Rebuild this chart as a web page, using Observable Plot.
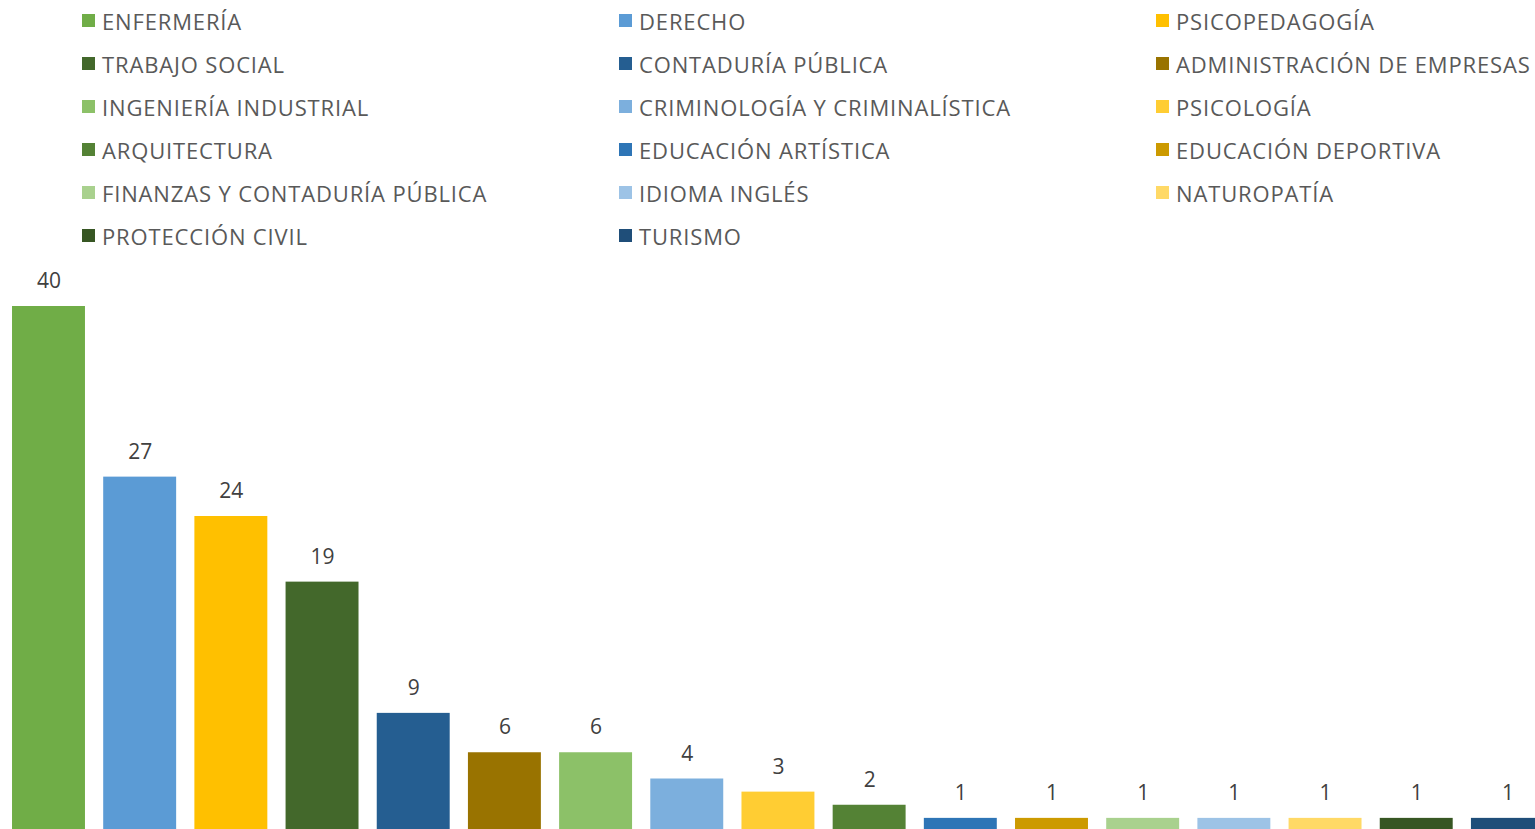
<!DOCTYPE html>
<html>
<head>
<meta charset="utf-8">
<script src="https://cdn.jsdelivr.net/npm/d3@7"></script>
<script src="https://cdn.jsdelivr.net/npm/@observablehq/plot@0.6"></script>
<style>
  html, body { margin: 0; padding: 0; background: #fff; overflow: hidden; }
  #legend {
    display: grid;
    grid-template-columns: 537px 537px 1fr;
    grid-auto-rows: 43px;
    margin-left: 82px;
    margin-top: -1px;
    height: 259px;
    font-family: "Open Sans", sans-serif;
    font-size: 22px;
    letter-spacing: 0.85px;
    color: #595959;
  }
  .item { height: 43px; display: flex; align-items: center; white-space: nowrap; }
  .sw { width: 13px; height: 13px; margin-right: 7px; flex: none; }
  #chart svg { display: block; max-width: none; }
</style>
</head>
<body>
<div id="legend"></div>
<div id="chart"></div>
<script>
const categories = [
  "ENFERMERÍA", "DERECHO", "PSICOPEDAGOGÍA",
  "TRABAJO SOCIAL", "CONTADURÍA PÚBLICA", "ADMINISTRACIÓN DE EMPRESAS",
  "INGENIERÍA INDUSTRIAL", "CRIMINOLOGÍA Y CRIMINALÍSTICA", "PSICOLOGÍA",
  "ARQUITECTURA", "EDUCACIÓN ARTÍSTICA", "EDUCACIÓN DEPORTIVA",
  "FINANZAS Y CONTADURÍA PÚBLICA", "IDIOMA INGLÉS", "NATUROPATÍA",
  "PROTECCIÓN CIVIL", "TURISMO"
];
const values = [40, 27, 24, 19, 9, 6, 6, 4, 3, 2, 1, 1, 1, 1, 1, 1, 1];
const colors = [
  "#70AD47", "#5B9BD5", "#FFC000",
  "#43682B", "#255E91", "#997300",
  "#8CC168", "#7CAFDD", "#FFCD33",
  "#548235", "#2E75B6", "#CC9A00",
  "#A9D18E", "#9DC3E6", "#FFD966",
  "#375623", "#1F4E79"
];

const data = categories.map((c, i) => ({category: c, value: values[i]}));

// Legend
const legend = document.getElementById("legend");
categories.forEach((c, i) => {
  const item = document.createElement("div");
  item.className = "item";
  const sw = document.createElement("span");
  sw.className = "sw";
  sw.style.background = colors[i];
  const t = document.createElement("span");
  t.textContent = c;
  item.appendChild(sw);
  item.appendChild(t);
  legend.appendChild(item);
});

const chart = Plot.plot({
  width: 1535,
  height: 574,
  marginTop: 0, marginBottom: 0, marginLeft: 0, marginRight: 0,
  style: {fontFamily: "Open Sans, sans-serif", fontSize: "21px", background: "white", overflow: "hidden"},
  x: {domain: categories, range: [2.9, 1553], paddingInner: 0.2, paddingOuter: 0.1, round: false, axis: null},
  y: {domain: [0, 40], range: [573, 48], axis: null},
  color: {domain: categories, range: colors},
  marks: [
    Plot.barY(data, {x: "category", y: "value", fill: "category"}),
    Plot.text(data, {x: "category", y: "value", text: d => String(d.value), dy: -25, fill: "#404040", lineAnchor: "middle", textAnchor: "middle"})
  ]
});
document.getElementById("chart").appendChild(chart);
</script>
</body>
</html>
